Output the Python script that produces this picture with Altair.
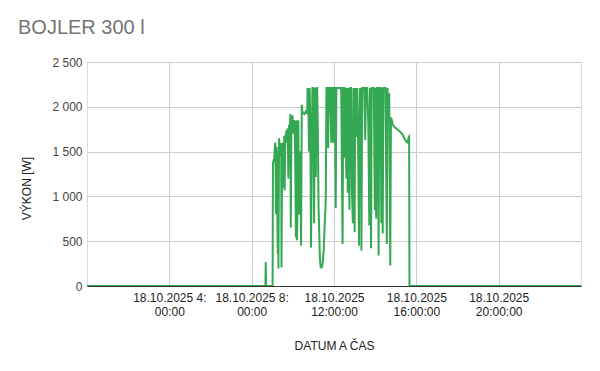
import altair as alt
import pandas as pd

title_text = "BOJLER 300 l"
x_title = "DATUM A ČAS"
y_title = "VÝKON [W]"

times = [
    "00:00", "08:40", "08:41", "08:42", "09:01", "09:02", "09:04", "09:06", "09:08", "09:09",
    "09:11", "09:13", "09:16", "09:17", "09:18", "09:20", "09:22", "09:24", "09:26", "09:27",
    "09:29", "09:31", "09:33", "09:35", "09:36", "09:38", "09:40", "09:42", "09:44", "09:45",
    "09:47", "09:49", "09:51", "09:53", "09:54", "09:56", "09:59", "10:01", "10:03", "10:05",
    "10:07", "10:09", "10:10", "10:12", "10:14", "10:16", "10:18", "10:20", "10:22", "10:24",
    "10:26", "10:28", "10:30", "10:34", "10:38", "10:42", "10:43", "10:45", "10:47", "10:49",
    "10:51", "10:53", "10:55", "10:57", "11:00", "11:02", "11:04", "11:07", "11:09", "11:11",
    "11:13", "11:15", "11:17", "11:19", "11:21", "11:24", "11:27", "11:30", "11:33", "11:36",
    "11:38", "11:41", "11:43", "11:45", "11:49", "11:52", "11:54", "11:56", "11:58", "12:00",
    "12:03", "12:05", "12:07", "12:11", "12:21", "12:25", "12:27", "12:30", "12:32", "12:33",
    "12:36", "12:38", "12:40", "12:42", "12:45", "12:47", "12:50", "12:52", "12:55", "12:57",
    "13:00", "13:02", "13:05", "13:07", "13:10", "13:13", "13:15", "13:17", "13:19", "13:20",
    "13:22", "13:28", "13:31", "13:33", "13:37", "13:40", "13:43", "13:45", "13:48", "13:50",
    "13:56", "13:59", "14:01", "14:03", "14:05", "14:08", "14:10", "14:12", "14:16", "14:18",
    "14:20", "14:22", "14:24", "14:30", "14:34", "14:36", "14:39", "14:41", "14:44", "14:46",
    "14:49", "14:51", "14:58", "15:06", "15:13", "15:20", "15:26", "15:31", "15:35", "15:38",
    "15:39", "15:40", "24:00",
]

power = [
    0, 0, 267, 0, 0, 1370, 1400, 1430, 1580, 1600,
    800, 1550, 360, 1500, 196, 1650, 1450, 1500, 1600, 207,
    1600, 1550, 1100, 1677, 1067, 1650, 1700, 1740, 1600, 1760,
    1200, 1800, 1750, 1920, 654, 1880, 1890, 1700, 1850, 1820,
    1400, 540, 1850, 510, 936, 1850, 800, 925, 1500, 450,
    2023, 1950, 1930, 1920, 1950, 1930, 2210, 2150, 1500, 2210,
    1800, 430, 1300, 2210, 2210, 700, 2210, 1216, 2210, 2210,
    1700, 880, 600, 300, 210, 207, 250, 400, 700, 950,
    2210, 2210, 1540, 2210, 2210, 1600, 2210, 2210, 1600, 2210,
    2210, 870, 2210, 2210, 2210, 470, 2210, 2210, 1430, 2210,
    1200, 2210, 1040, 2210, 850, 2210, 2210, 1100, 700, 2210,
    600, 2210, 1663, 2210, 1700, 450, 2210, 1650, 2210, 395,
    2210, 2210, 1630, 2210, 2210, 1800, 675, 2210, 420, 2210,
    2210, 845, 2210, 750, 2210, 2210, 340, 2210, 2210, 700,
    2210, 585, 2210, 2210, 470, 2210, 1890, 2150, 230, 1880,
    1850, 1800, 1770, 1745, 1720, 1690, 1640, 1610, 1600, 1665,
    1670, 0, 0,
]

x_ticks = [4, 8, 12, 16, 20]
y_ticks = [0, 500, 1000, 1500, 2000, 2500]
date_label = "18.10.2025"


def to_hours(t):
    h, m = t.split(":")
    return int(h) + int(m) / 60.0


df = pd.DataFrame({"hour": [to_hours(t) for t in times], "power": power})

FONT = "Liberation Sans"

label_expr = (
    "datum.value < 10 ? ['" + date_label + " ' + datum.value + ':', '00:00'] "
    ": ['" + date_label + "', datum.value + ':00:00']"
)

chart = (
    alt.Chart(df)
    .mark_line(color="#34a853", strokeWidth=2, clip=True)
    .encode(
        x=alt.X(
            "hour:Q",
            scale=alt.Scale(domain=[0, 24], nice=False, zero=False),
            axis=alt.Axis(
                values=x_ticks,
                labelExpr=label_expr,
                title=x_title,
                grid=True,
                gridColor="#cccccc",
                domainColor="#333333",
                ticks=False,
                labelFont=FONT,
                labelFontSize=12,
                labelColor="#222222",
                labelLineHeight=14.5,
                labelPadding=6,
                labelFlush=False,
                labelOverlap=False,
                titleFont=FONT,
                titleFontSize=12,
                titleFontWeight="normal",
                titleColor="#222222",
                titleY=59,
                titleBaseline="middle",
            ),
        ),
        y=alt.Y(
            "power:Q",
            scale=alt.Scale(domain=[0, 2500], nice=False),
            axis=alt.Axis(
                values=y_ticks,
                labelExpr="replace(format(datum.value, ','), ',', ' ')",
                title=y_title,
                grid=True,
                gridColor="#cccccc",
                domain=False,
                ticks=False,
                labelFont=FONT,
                labelFontSize=12,
                labelColor="#444444",
                labelPadding=5,
                titleFont=FONT,
                titleFontSize=12,
                titleFontWeight="normal",
                titleColor="#222222",
                titleX=-61,
                titleY=126,
                titleBaseline="middle",
            ),
        ),
    )
    .properties(
        width=494,
        height=224,
        autosize=alt.AutoSizeParams(type="none"),
        padding={"left": 87, "top": 62, "right": 19, "bottom": 85},
        title=alt.Title(
            title_text,
            anchor="start",
            frame="group",
            font=FONT,
            fontSize=20,
            fontWeight="normal",
            color="#757575",
            baseline="alphabetic",
            dx=-69,
            dy=17,
            offset=19,
        ),
    )
    .configure_view(stroke=None)
    .configure(background="white")
)

chart.save("out.html", embed_options={"renderer": "svg", "actions": False})
